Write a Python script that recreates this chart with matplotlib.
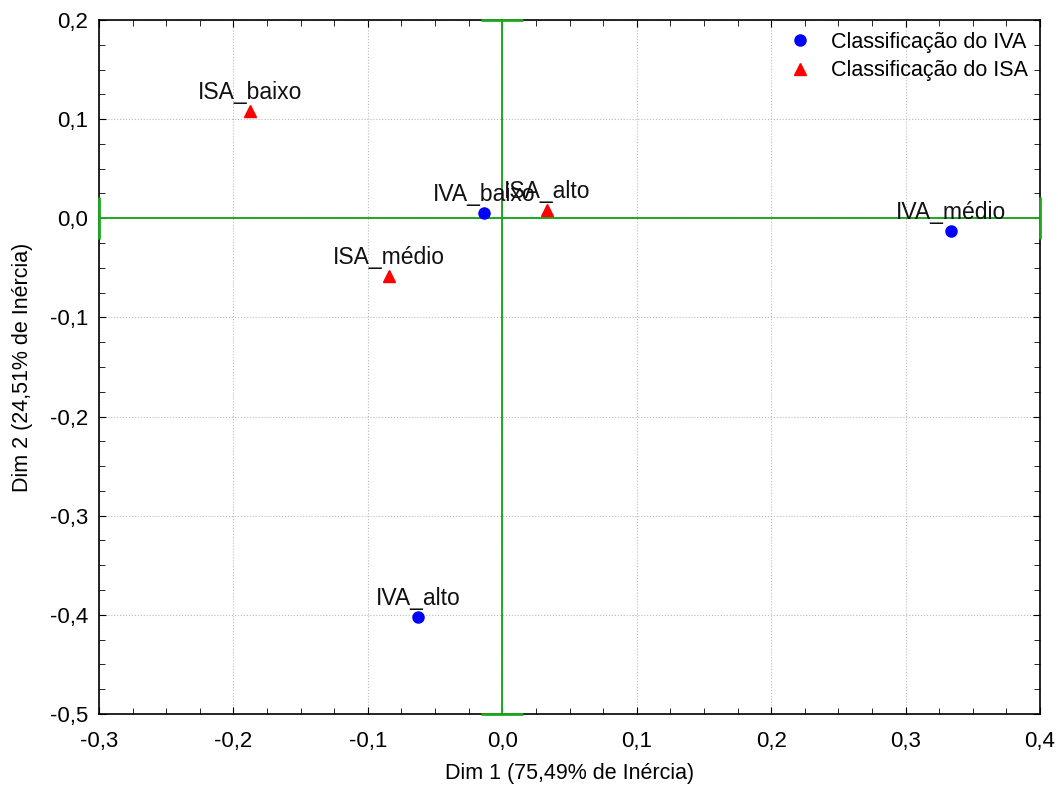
import matplotlib.pyplot as plt
from matplotlib.ticker import MultipleLocator, FuncFormatter

plt.rcParams['font.family'] = ['Liberation Sans', 'DejaVu Sans']

# IVA categories (blue circles)
iva_labels = ['IVA_baixo', 'IVA_médio', 'IVA_alto']
iva_x = [-0.0135, 0.334, -0.0626]
iva_y = [0.0052, -0.0129, -0.4024]

# ISA categories (red triangles)
isa_labels = ['ISA_baixo', 'ISA_médio', 'ISA_alto']
isa_x = [-0.1876, -0.0842, 0.0333]
isa_y = [0.108, -0.0583, 0.0083]

xlim = (-0.3, 0.4)
ylim = (-0.5, 0.2)

fig = plt.figure(figsize=(10.58, 7.86), dpi=100)
ax = fig.add_axes([0.0936, 0.0916, 0.983 - 0.0936, 0.9746 - 0.0916])

ax.set_xlim(*xlim)
ax.set_ylim(*ylim)
ax.grid(True, which='major', color='#bbbbbb', linestyle=':', linewidth=0.8)
ax.set_axisbelow(True)

# origin lines with end caps
green = '#1fa81f'
ax.plot([0, 0], ylim, color=green, lw=1.4, zorder=2)
ax.plot(xlim, [0, 0], color=green, lw=1.4, zorder=2)
ax.plot([0, 0], ylim, ls='none', marker='_', ms=30, mew=2, color=green, clip_on=False, zorder=5)
ax.plot(xlim, [0, 0], ls='none', marker='|', ms=30, mew=2, color=green, clip_on=False, zorder=5)

ax.plot(iva_x, iva_y, ls='none', marker='o', ms=8, color='#0000ff', label='Classificação do IVA', zorder=3)
ax.plot(isa_x, isa_y, ls='none', marker='^', ms=8, color='#ff0000', label='Classificação do ISA', zorder=3)

for lab, x, y in zip(iva_labels + isa_labels, iva_x + isa_x, iva_y + isa_y):
    ax.annotate(lab, (x, y), xytext=(0, 5), textcoords='offset points',
                ha='center', va='bottom', fontsize=16.5, color='#111111', zorder=4)

ax.xaxis.set_major_locator(MultipleLocator(0.1))
ax.yaxis.set_major_locator(MultipleLocator(0.1))
ax.xaxis.set_minor_locator(MultipleLocator(0.025))
ax.yaxis.set_minor_locator(MultipleLocator(0.025))
fmt = FuncFormatter(lambda v, p: ('%.1f' % v).replace('.', ',').replace('-0,0', '0,0'))
ax.xaxis.set_major_formatter(fmt)
ax.yaxis.set_major_formatter(fmt)
ax.tick_params(which='both', direction='in', top=True, right=True, labelsize=16, pad=8)
ax.tick_params(axis='x', which='major', pad=12)
ax.tick_params(which='major', length=5)
ax.tick_params(which='minor', length=4)
for s in ax.spines.values():
    s.set_linewidth(1.2)

ax.set_xlabel('Dim 1 (75,49% de Inércia)', fontsize=15.5, labelpad=8)
ax.set_ylabel('Dim 2 (24,51% de Inércia)', fontsize=15.5, labelpad=12)

ax.legend(loc='upper right', frameon=False, fontsize=15.5, handletextpad=0.7,
          borderaxespad=0.15, labelspacing=0.35, handlelength=1.5)

fig.savefig('out.png', dpi=100)
